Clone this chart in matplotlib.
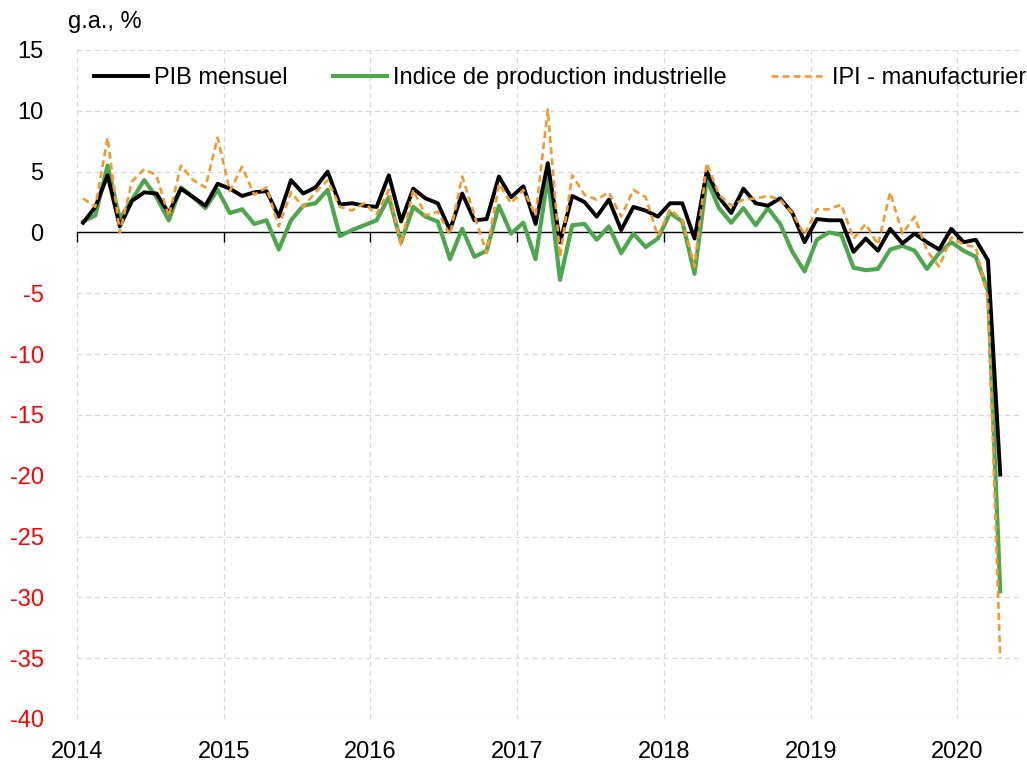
import matplotlib
matplotlib.use("Agg")
import matplotlib.pyplot as plt
import numpy as np

plt.rcParams['font.family'] = ['Liberation Sans', 'DejaVu Sans']
plt.rcParams['axes.unicode_minus'] = False

# Monthly data, Jan 2014 - Apr 2020 (g.a., %)
pib = [0.8, 2.1, 4.7, 0.5, 2.6, 3.3, 3.2, 1.6, 3.6, 2.9, 2.2, 4.0,
       3.6, 3.0, 3.3, 3.4, 1.3, 4.3, 3.2, 3.7, 5.0, 2.3, 2.4, 2.2,
       2.1, 4.7, 0.9, 3.6, 2.8, 2.4, 0.2, 3.2, 1.0, 1.1, 4.6, 2.9,
       3.8, 0.7, 5.7, -0.8, 3.0, 2.5, 1.3, 2.7, 0.2, 2.1, 1.8, 1.3,
       2.4, 2.4, -0.5, 5.0, 2.9, 1.6, 3.6, 2.4, 2.2, 2.8, 1.6, -0.8,
       1.1, 1.0, 1.0, -1.6, -0.5, -1.5, 0.3, -0.9, -0.1, -0.8, -1.4, 0.3,
       -0.8, -0.6, -2.3, -19.9]
ipi = [0.9, 1.4, 5.5, 1.1, 2.7, 4.3, 2.9, 1.0, 3.7, 2.9, 2.0, 3.5,
       1.6, 1.9, 0.7, 1.0, -1.4, 1.0, 2.2, 2.4, 3.5, -0.3, 0.2, 0.6,
       1.0, 2.9, -0.8, 2.1, 1.3, 0.9, -2.2, 0.3, -2.0, -1.5, 2.2, -0.1,
       0.8, -2.2, 4.6, -3.9, 0.6, 0.7, -0.6, 0.5, -1.7, -0.1, -1.2, -0.5,
       1.6, 0.9, -3.4, 4.4, 2.0, 0.8, 2.0, 0.6, 2.0, 0.7, -1.6, -3.2,
       -0.6, 0.0, -0.2, -2.9, -3.1, -3.0, -1.4, -1.1, -1.5, -3.0, -1.7, -0.8,
       -1.5, -2.0, -4.8, -29.5]
ipi_manuf = [2.8, 2.1, 7.8, 0.0, 4.2, 5.2, 4.7, 1.3, 5.5, 4.3, 3.7, 7.8,
             3.4, 5.4, 3.1, 3.7, 0.5, 3.3, 2.1, 3.3, 4.3, 2.1, 1.8, 2.4,
             1.5, 3.5, -1.0, 3.5, 1.4, 1.7, -0.2, 4.6, 1.4, -1.7, 4.0, 2.4,
             3.5, 1.4, 10.1, -2.0, 4.7, 3.1, 2.7, 3.3, 1.3, 3.5, 2.9, -0.3,
             1.9, 1.0, -2.8, 5.7, 3.1, 2.2, 2.7, 2.8, 3.0, 2.7, 1.6, -0.2,
             1.9, 1.9, 2.3, -0.5, 0.7, -1.0, 3.3, -0.1, 1.3, -1.5, -2.8, -0.4,
             -1.0, -1.2, -5.5, -35.0]
years = [2014, 2015, 2016, 2017, 2018, 2019, 2020]
yticks = [15, 10, 5, 0, -5, -10, -15, -20, -25, -30, -35, -40]
labels = ['PIB mensuel', 'Indice de production industrielle', 'IPI - manufacturier']

x = 2014 + (np.arange(len(pib)) + 0.5) / 12.0

fig = plt.figure(figsize=(10.27, 7.67), dpi=100)
ax = fig.add_axes([77/1027, 1 - 719/767, 945/1027, 669/767])

ax.plot(x, pib, color='black', lw=2.8, label=labels[0], zorder=4)
ax.plot(x, ipi, color='#4EA74F', lw=3.0, label=labels[1], zorder=3)
ax.plot(x, ipi_manuf, color='#F39A2E', lw=1.9, ls=(0, (2.6, 1.6)), label=labels[2], zorder=5)

ax.set_xlim(2014, 2020.44)
ax.set_ylim(-40, 15)
ax.set_yticks(yticks)
ax.set_xticks(years)

ax.grid(True, color='#d9d9d9', ls=(0, (4, 3)), lw=0.9)
ax.set_axisbelow(True)
for s in ['top', 'right', 'left']:
    ax.spines[s].set_visible(False)
ax.spines['bottom'].set_position(('data', 0))
ax.spines['bottom'].set_color('black')
ax.spines['bottom'].set_linewidth(1.0)
ax.spines['bottom'].set_zorder(2)
ax.tick_params(axis='x', direction='out', length=7, width=1, labelbottom=False)
ax.tick_params(axis='y', length=0, pad=24, labelsize=17)

for lab, v in zip(ax.get_yticklabels(), yticks):
    lab.set_color('red' if v < 0 else 'black')

sec = ax.secondary_xaxis('bottom')
sec.set_xticks(years)
sec.set_xticklabels([str(y) for y in years])
sec.tick_params(length=0, pad=16, labelsize=17)
sec.spines['bottom'].set_visible(False)

fig.text(68/1027, 1 - 22/767, 'g.a., %', fontsize=17, va='center', ha='left')

leg = ax.legend(loc='center left', bbox_to_anchor=(0.018, 0.958), ncol=3, frameon=False,
                fontsize=17, handlelength=2.3, handletextpad=0.25, columnspacing=1.9,
                borderaxespad=0, borderpad=0)

fig.savefig('out.png', dpi=100)
